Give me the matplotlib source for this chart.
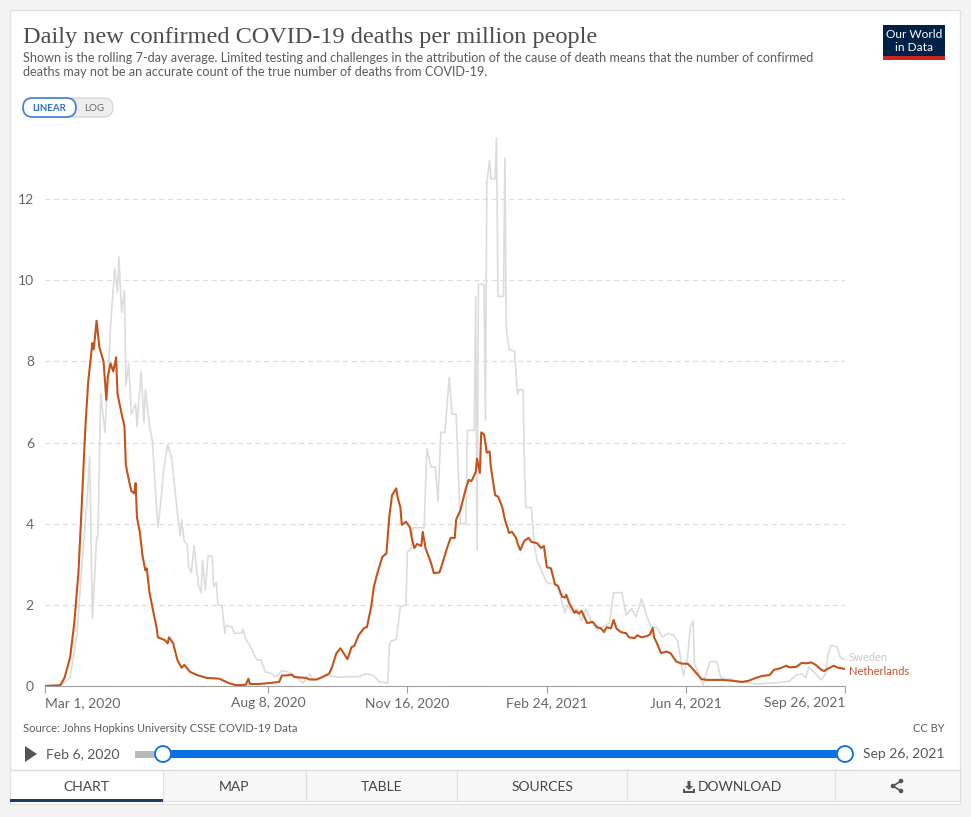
import matplotlib
matplotlib.use("Agg")
import matplotlib.pyplot as plt
from matplotlib.patches import Rectangle, FancyBboxPatch, Circle, Polygon
import pandas as pd

plt.rcParams['font.family'] = ['Lato', 'DejaVu Sans']

# Netherlands, daily deaths per million (7-day avg)
nl_dates = [
    "2020-03-01", "2020-03-12", "2020-03-15", "2020-03-19", "2020-03-22", "2020-03-25",
    "2020-03-27", "2020-03-30", "2020-04-01", "2020-04-04", "2020-04-05", "2020-04-07",
    "2020-04-09", "2020-04-12", "2020-04-14", "2020-04-15", "2020-04-17", "2020-04-19",
    "2020-04-21", "2020-04-22", "2020-04-25", "2020-04-27", "2020-04-28", "2020-04-30",
    "2020-05-02", "2020-05-04", "2020-05-05", "2020-05-06", "2020-05-08", "2020-05-10",
    "2020-05-12", "2020-05-13", "2020-05-15", "2020-05-17", "2020-05-20", "2020-05-21",
    "2020-05-26", "2020-05-28", "2020-05-29", "2020-06-01", "2020-06-04", "2020-06-07",
    "2020-06-09", "2020-06-13", "2020-06-18", "2020-06-25", "2020-07-04", "2020-07-11",
    "2020-07-16", "2020-07-23", "2020-07-25", "2020-07-26", "2020-08-02", "2020-08-11",
    "2020-08-16", "2020-08-18", "2020-08-21", "2020-08-25", "2020-08-27", "2020-09-04",
    "2020-09-07", "2020-09-12", "2020-09-16", "2020-09-21", "2020-09-23", "2020-09-26",
    "2020-09-29", "2020-10-02", "2020-10-04", "2020-10-07", "2020-10-09", "2020-10-12",
    "2020-10-16", "2020-10-18", "2020-10-21", "2020-10-23", "2020-10-25", "2020-10-29",
    "2020-11-01", "2020-11-03", "2020-11-05", "2020-11-08", "2020-11-09", "2020-11-11",
    "2020-11-12", "2020-11-15", "2020-11-18", "2020-11-19", "2020-11-21", "2020-11-23",
    "2020-11-26", "2020-11-27", "2020-11-29", "2020-12-03", "2020-12-05", "2020-12-09",
    "2020-12-11", "2020-12-14", "2020-12-17", "2020-12-20", "2020-12-21", "2020-12-24",
    "2020-12-28", "2020-12-30", "2021-01-01", "2021-01-04", "2021-01-05", "2021-01-07",
    "2021-01-08", "2021-01-10", "2021-01-12", "2021-01-14", "2021-01-15", "2021-01-18",
    "2021-01-20", "2021-01-23", "2021-01-25", "2021-01-28", "2021-01-30", "2021-02-02",
    "2021-02-03", "2021-02-05", "2021-02-08", "2021-02-11", "2021-02-13", "2021-02-17",
    "2021-02-20", "2021-02-22", "2021-02-24", "2021-02-27", "2021-03-02", "2021-03-04",
    "2021-03-07", "2021-03-09", "2021-03-10", "2021-03-12", "2021-03-16", "2021-03-17",
    "2021-03-19", "2021-03-21", "2021-03-25", "2021-03-29", "2021-04-01", "2021-04-04",
    "2021-04-06", "2021-04-08", "2021-04-11", "2021-04-13", "2021-04-15", "2021-04-18",
    "2021-04-22", "2021-04-24", "2021-04-28", "2021-04-30", "2021-05-03", "2021-05-07",
    "2021-05-09", "2021-05-11", "2021-05-12", "2021-05-14", "2021-05-17", "2021-05-21",
    "2021-05-24", "2021-05-28", "2021-06-01", "2021-06-05", "2021-06-08", "2021-06-11",
    "2021-06-15", "2021-06-19", "2021-06-26", "2021-06-30", "2021-07-07", "2021-07-14",
    "2021-07-19", "2021-07-24", "2021-07-29", "2021-08-03", "2021-08-06", "2021-08-10",
    "2021-08-15", "2021-08-17", "2021-08-22", "2021-08-26", "2021-08-29", "2021-09-02",
    "2021-09-05", "2021-09-09", "2021-09-11", "2021-09-14", "2021-09-18", "2021-09-21",
    "2021-09-26",
]
nl_values = [
    0.0, 0.02, 0.2, 0.7, 1.55, 2.8,
    4.2, 6.4, 7.5, 8.45, 8.3, 9.0,
    8.35, 8.0, 7.05, 7.6, 7.95, 7.75,
    8.1, 7.2, 6.7, 6.4, 5.45, 5.1,
    4.8, 4.75, 5.0, 4.15, 3.8, 3.2,
    2.85, 2.9, 2.3, 1.95, 1.45, 1.2,
    1.13, 1.05, 1.2, 1.05, 0.64, 0.45,
    0.52, 0.35, 0.27, 0.2, 0.18, 0.07,
    0.02, 0.03, 0.18, 0.05, 0.05, 0.08,
    0.1, 0.26, 0.26, 0.28, 0.22, 0.2,
    0.16, 0.16, 0.22, 0.31, 0.47, 0.8,
    0.93, 0.77, 0.66, 0.96, 0.99, 1.25,
    1.43, 1.45, 1.95, 2.45, 2.72, 3.18,
    3.27, 4.17, 4.7, 4.87, 4.65, 4.4,
    3.97, 4.05, 3.9, 3.67, 3.4, 3.5,
    3.45, 3.8, 3.4, 3.03, 2.78, 2.8,
    3.0, 3.35, 3.65, 3.65, 4.1, 4.33,
    4.87, 5.08, 5.05, 5.27, 5.6, 5.25,
    6.25, 6.2, 5.75, 5.78, 5.37, 4.7,
    4.67, 4.42, 4.1, 3.77, 3.8, 3.65,
    3.52, 3.35, 3.58, 3.65, 3.55, 3.52,
    3.4, 3.45, 2.93, 2.9, 2.5, 2.47,
    2.2, 2.18, 2.25, 2.05, 1.8, 1.85,
    1.78, 1.85, 1.55, 1.58, 1.45, 1.42,
    1.33, 1.45, 1.42, 1.63, 1.42, 1.33,
    1.3, 1.2, 1.18, 1.25, 1.2, 1.23,
    1.27, 1.43, 1.2, 1.06, 0.81, 0.85,
    0.8, 0.6, 0.55, 0.55, 0.45, 0.33,
    0.17, 0.15, 0.15, 0.15, 0.13, 0.1,
    0.13, 0.2, 0.25, 0.27, 0.4, 0.43,
    0.5, 0.46, 0.47, 0.57, 0.56, 0.58,
    0.52, 0.4, 0.37, 0.43, 0.5, 0.45,
    0.42,
]

# Sweden (irregular reporting gives the step pattern)
se_dates = [
    "2020-03-01", "2020-03-12", "2020-03-19", "2020-03-24", "2020-03-28", "2020-03-31",
    "2020-04-02", "2020-04-04", "2020-04-07", "2020-04-08", "2020-04-10", "2020-04-13",
    "2020-04-15", "2020-04-17", "2020-04-20", "2020-04-22", "2020-04-23", "2020-04-25",
    "2020-04-27", "2020-04-28", "2020-04-30", "2020-05-02", "2020-05-05", "2020-05-06",
    "2020-05-09", "2020-05-11", "2020-05-12", "2020-05-15", "2020-05-17", "2020-05-21",
    "2020-05-23", "2020-05-25", "2020-05-28", "2020-05-31", "2020-06-04", "2020-06-06",
    "2020-06-07", "2020-06-09", "2020-06-11", "2020-06-12", "2020-06-14", "2020-06-16",
    "2020-06-19", "2020-06-21", "2020-06-22", "2020-06-24", "2020-06-26", "2020-06-29",
    "2020-06-30", "2020-07-02", "2020-07-03", "2020-07-06", "2020-07-08", "2020-07-09",
    "2020-07-13", "2020-07-15", "2020-07-20", "2020-07-21", "2020-07-23", "2020-07-26",
    "2020-07-28", "2020-07-31", "2020-08-03", "2020-08-06", "2020-08-11", "2020-08-13",
    "2020-08-16", "2020-08-18", "2020-08-22", "2020-08-25", "2020-08-29", "2020-09-02",
    "2020-09-05", "2020-09-07", "2020-09-09", "2020-09-14", "2020-09-20", "2020-09-28",
    "2020-10-12", "2020-10-17", "2020-10-22", "2020-10-27", "2020-11-02", "2020-11-03",
    "2020-11-04", "2020-11-08", "2020-11-11", "2020-11-15", "2020-11-16", "2020-11-19",
    "2020-11-20", "2020-11-28", "2020-11-30", "2020-12-03", "2020-12-06", "2020-12-08",
    "2020-12-10", "2020-12-13", "2020-12-16", "2020-12-18", "2020-12-21", "2020-12-24",
    "2020-12-28", "2020-12-29", "2021-01-03", "2021-01-04", "2021-01-05", "2021-01-06",
    "2021-01-10", "2021-01-11", "2021-01-12", "2021-01-14", "2021-01-15", "2021-01-18",
    "2021-01-19", "2021-01-20", "2021-01-24", "2021-01-25", "2021-01-26", "2021-01-28",
    "2021-02-01", "2021-02-03", "2021-02-04", "2021-02-07", "2021-02-08", "2021-02-09",
    "2021-02-13", "2021-02-15", "2021-02-17", "2021-02-24", "2021-03-02", "2021-03-04",
    "2021-03-09", "2021-03-11", "2021-03-14", "2021-03-18", "2021-03-21", "2021-03-24",
    "2021-03-28", "2021-04-01", "2021-04-10", "2021-04-13", "2021-04-19", "2021-04-22",
    "2021-04-26", "2021-04-29", "2021-05-03", "2021-05-07", "2021-05-10", "2021-05-14",
    "2021-05-18", "2021-05-22", "2021-05-26", "2021-05-29", "2021-06-01", "2021-06-02",
    "2021-06-05", "2021-06-07", "2021-06-09", "2021-06-10", "2021-06-16", "2021-06-21",
    "2021-06-26", "2021-06-29", "2021-07-07", "2021-07-12", "2021-07-24", "2021-08-08",
    "2021-08-17", "2021-08-22", "2021-08-26", "2021-08-29", "2021-08-31", "2021-09-05",
    "2021-09-09", "2021-09-12", "2021-09-14", "2021-09-16", "2021-09-20", "2021-09-23",
    "2021-09-26",
]
se_values = [
    0.0, 0.02, 0.2, 1.3, 3.2, 4.5,
    5.65, 1.67, 3.6, 3.75, 7.2, 6.25,
    7.5, 8.85, 10.3, 9.7, 10.57, 9.2,
    9.75, 7.4, 7.95, 6.7, 6.95, 6.4,
    7.75, 6.5, 7.3, 6.4, 6.05, 3.9,
    4.5, 5.3, 5.95, 5.6, 4.25, 3.7,
    4.1, 3.55, 3.5, 2.95, 2.8, 3.45,
    2.5, 2.3, 3.1, 2.35, 3.2, 3.2,
    2.45, 2.55, 2.0, 1.97, 1.3, 1.5,
    1.45, 1.3, 1.3, 1.4, 1.15, 1.0,
    0.85, 0.65, 0.64, 0.35, 0.3, 0.22,
    0.3, 0.38, 0.35, 0.3, 0.2, 0.07,
    0.2, 0.3, 0.15, 0.2, 0.25, 0.22,
    0.23, 0.3, 0.27, 0.1, 0.07, 0.96,
    1.1, 1.15, 1.95, 2.0, 3.3, 3.4,
    3.9, 3.9, 5.85, 5.4, 5.4, 4.55,
    6.25, 6.25, 7.6, 6.7, 6.7, 4.0,
    4.0, 6.3, 6.3, 9.6, 3.35, 9.9,
    9.9, 6.55, 12.4, 12.95, 12.5, 12.5,
    13.5, 9.6, 9.6, 13.0, 8.8, 8.3,
    8.25, 7.2, 7.3, 7.3, 5.4, 4.4,
    4.4, 3.5, 3.1, 2.55, 2.5, 2.45,
    1.8, 2.0, 1.8, 1.9, 1.6, 1.9,
    1.6, 1.38, 1.55, 2.3, 2.3, 1.75,
    1.9, 1.7, 2.15, 1.7, 1.45, 1.45,
    1.2, 1.3, 1.25, 1.1, 0.47, 0.25,
    0.7, 1.45, 1.6, 0.55, 0.02, 0.6,
    0.6, 0.2, 0.16, 0.1, 0.05, 0.08,
    0.12, 0.27, 0.3, 0.2, 0.47, 0.3,
    0.15, 0.3, 0.8, 1.0, 0.97, 0.68,
    0.65,
]

y_ticks = [0, 2, 4, 6, 8, 10, 12]
x_tick_dates = ["2020-03-01", "2020-08-08", "2020-11-16", "2021-02-24", "2021-06-04", "2021-09-26"]
x_tick_labels = ["Mar 1, 2020", "Aug 8, 2020", "Nov 16, 2020", "Feb 24, 2021", "Jun 4, 2021", "Sep 26, 2021"]
tabs = ["CHART", "MAP", "TABLE", "SOURCES", "DOWNLOAD", ""]
tab_edges = [10, 163, 306, 457, 627, 835, 960]

nl_color = "#c4531b"
se_color = "#dcdcdc"
W, H = 971, 817

fig = plt.figure(figsize=(W / 100, H / 100), dpi=100)
fig.patch.set_facecolor("#f4f4f4")

# full-figure overlay in pixel units for the page furniture
bg = fig.add_axes([0, 0, 1, 1], zorder=0)
bg.set_xlim(0, W)
bg.set_ylim(H, 0)
bg.axis("off")
bg.add_patch(Rectangle((10, 10), 950, 794, facecolor="white", edgecolor="#e2e2e2", lw=1))

bg.text(23, 37, "Daily new confirmed COVID-19 deaths per million people", fontsize=17.5,
        family="Liberation Serif", color="#4d4d4d", va="center")
bg.text(23, 58, "Shown is the rolling 7-day average. Limited testing and challenges in the attribution of the cause of death means that the number of confirmed",
        fontsize=9.05, color="#5b5b5b", va="center")
bg.text(23, 71.5, "deaths may not be an accurate count of the true number of deaths from COVID-19.",
        fontsize=9.05, color="#5b5b5b", va="center")

# linear / log toggle
bg.add_patch(FancyBboxPatch((33, 98), 80, 19, boxstyle="round,pad=0,rounding_size=9.5",
                            facecolor="#eeeeee", edgecolor="#d8d8d8", lw=1))
bg.add_patch(FancyBboxPatch((23, 98), 53, 19, boxstyle="round,pad=0,rounding_size=9.5",
                            facecolor="white", edgecolor="#3b7dd8", lw=1.2))
bg.text(49.5, 108, "LINEAR", fontsize=7, color="#2f6fc9", ha="center", va="center", weight="bold")
bg.text(94, 108, "LOG", fontsize=7, color="#666666", ha="center", va="center")

# logo
bg.add_patch(Rectangle((883, 25), 62, 34, facecolor="#002147"))
bg.add_patch(Rectangle((883, 56), 62, 3.5, facecolor="#ce261e"))
bg.text(914, 34.5, "Our World", fontsize=8.6, color="white", ha="center", va="center")
bg.text(914, 47.5, "in Data", fontsize=8.6, color="white", ha="center", va="center")

bg.text(23, 729, "Source: Johns Hopkins University CSSE COVID-19 Data", fontsize=8, color="#5b5b5b", va="center")
bg.text(945, 729, "CC BY", fontsize=8, color="#5b5b5b", va="center", ha="right")

# timeline
bg.add_patch(Polygon([(25, 746), (25, 762), (37, 754)], closed=True, facecolor="#555555"))
bg.text(46, 754, "Feb 6, 2020", fontsize=10, color="#555555", va="center")
bg.add_patch(Rectangle((135, 750.5), 30, 7, facecolor="#b8b8c0"))
bg.add_patch(Rectangle((163, 750), 682, 8, facecolor="#0a6fe0"))
for cx in (163, 845):
    bg.add_patch(Circle((cx, 754), 8, facecolor="white", edgecolor="#0a6fe0", lw=1.3, zorder=3))
bg.text(863, 754, "Sep 26, 2021", fontsize=10, color="#555555", va="center")

# tabs
bg.plot([10, 960], [770, 770], color="#dddddd", lw=1)
for i, name in enumerate(tabs):
    x0, x1 = tab_edges[i], tab_edges[i + 1]
    face = "white" if i == 0 else "#f7f7f7"
    bg.add_patch(Rectangle((x0, 770), x1 - x0, 31, facecolor=face, edgecolor="#e0e0e0", lw=0.8))
    cx = (x0 + x1) / 2 if name != "DOWNLOAD" else 740
    bg.text(cx, 787, name, fontsize=10, color="#444444", ha="center", va="center")
bg.add_patch(Rectangle((10, 799), 153, 3, facecolor="#1d3d63"))

# download icon: arrow into a tray
bg.add_patch(Polygon([(687.5, 781), (690.5, 781), (690.5, 786), (693, 786), (689, 790), (685, 786), (687.5, 786)],
                     closed=True, facecolor="#555555"))
bg.add_patch(Polygon([(683, 789), (685, 789), (685, 791), (693, 791), (693, 789), (695, 789), (695, 793), (683, 793)],
                     closed=True, facecolor="#555555"))

# share icon
for (sx, sy) in [(901, 781), (893, 786), (901, 791)]:
    bg.add_patch(Circle((sx, sy), 2.3, facecolor="#555555"))
bg.plot([901, 893, 901], [781, 786, 791], color="#555555", lw=1.2)

# the chart itself
ax = fig.add_axes([45 / W, 1 - 686 / H, 800 / W, (686 - 130) / H], zorder=1)
ax.patch.set_alpha(0)
nl_x = pd.to_datetime(nl_dates)
se_x = pd.to_datetime(se_dates)
ax.plot(se_x, se_values, color=se_color, lw=1.2, zorder=2)
ax.plot(nl_x, nl_values, color=nl_color, lw=1.5, zorder=3)

ax.set_xlim(pd.Timestamp("2020-03-01"), pd.Timestamp("2021-09-26"))
ax.set_ylim(0, (686 - 130) / 40.58)
for s in ("top", "right", "left"):
    ax.spines[s].set_visible(False)
ax.spines["bottom"].set_color("#a0a0a0")
ax.spines["bottom"].set_zorder(4)

ax.set_yticks(y_ticks)
ax.set_yticklabels([str(v) for v in y_ticks])
ax.tick_params(axis="y", length=0, pad=8, labelsize=10, labelcolor="#666666")
ax.grid(axis="y", color="#dddddd", ls=(0, (4, 3)), lw=0.9)
ax.set_axisbelow(True)

ax.set_xticks(pd.to_datetime(x_tick_dates))
ax.set_xticklabels(x_tick_labels)
ax.tick_params(axis="x", length=5, color="#a0a0a0", labelsize=10, labelcolor="#666666", pad=3)
xt = ax.get_xticklabels()
xt[0].set_ha("left")
xt[-1].set_ha("right")

ax.text(1.005, se_values[-1] + 0.05, "Sweden", transform=ax.get_yaxis_transform(),
        fontsize=8, color="#c8c8c8", va="center", clip_on=False)
ax.text(1.005, 0.35, "Netherlands", transform=ax.get_yaxis_transform(),
        fontsize=8, color="#c6502e", va="center", clip_on=False)

fig.savefig("out.png", dpi=100, facecolor=fig.get_facecolor())
